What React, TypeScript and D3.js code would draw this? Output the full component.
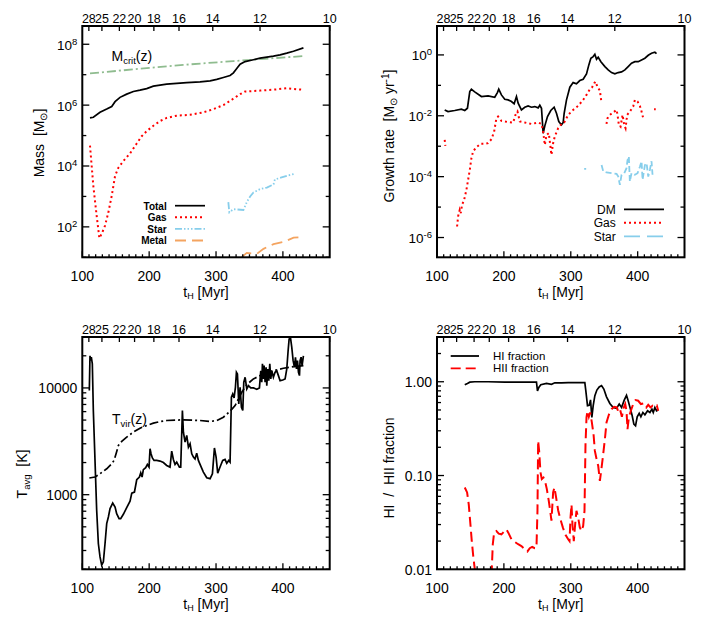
import React from "react";
import * as d3 from "d3";

type P = [number, number] | null;

// ---------------- axes data ----------------
const xDomain: [number, number] = [100, 470];
const xMajor = [100, 200, 300, 400];
const xMinor = d3.range(110, 470, 10).filter((v) => v % 100 !== 0);
const zLabels = [28, 25, 22, 20, 18, 16, 14, 12, 10];
const tOfZ = (z: number) => 17146 * Math.pow(1 + z, -1.5);

// ---------------- panel 1: mass ----------------
const massTotal: P[] = [
  [111.5, 3.8e5], [116.5, 4.0e5], [126.5, 5.8e5], [136.5, 7.4e5], [144, 9.0e5], [149, 1.3e6],
  [156.4, 1.8e6], [166.4, 2.3e6], [176.4, 2.8e6], [186.3, 3.1e6], [196.3, 3.5e6], [206.3, 4.2e6],
  [226.2, 4.9e6], [256.2, 5.5e6], [276.1, 5.8e6], [291.1, 6.3e6], [301.1, 7.0e6], [311, 8.1e6],
  [321, 9.4e6], [326, 1.15e7], [331, 1.6e7], [336, 2.2e7], [343.5, 2.7e7], [355.9, 3.1e7],
  [365.9, 3.5e7], [375.9, 3.8e7], [385.8, 4.1e7], [395.8, 4.5e7], [405.8, 5.1e7], [415.8, 5.9e7],
  [430.7, 7.6e7],
];
const massCrit: P[] = [
  [111.5, 1.1e7], [176.4, 1.5e7], [251, 2.1e7], [326, 2.8e7], [430.7, 4.1e7],
];
const massGas: P[] = [
  [111.5, 4.7e4], [116.5, 2.2e3], [121.5, 2.3e2], [125.5, 43], [129, 59], [134, 110], [139, 300],
  [144, 1050], [149, 4.7e3], [154, 8.8e3], [161.4, 1.45e4], [171.4, 2.6e4], [181.4, 5.5e4],
  [188.8, 9.5e4], [196.3, 1.4e5], [206.3, 2.1e5], [216.3, 3.0e5], [226.2, 3.8e5], [241.2, 4.5e5],
  [261.2, 4.8e5], [281.1, 5.8e5], [296.1, 7.4e5], [311, 1.0e6], [323.5, 1.5e6], [336, 2.3e6],
  [343.5, 2.8e6], [365.9, 3.0e6], [390.8, 3.3e6], [405.8, 3.6e6], [415.8, 3.4e6], [430.7, 3.2e6],
];
const massStar: P[] = [
  [318.4, 650], [319.9, 300], [326, 380], [341, 360], [346, 650], [351, 1000], [356, 1350],
  [366, 1750], [376, 1950], [386, 2500], [388, 3600], [398, 4200], [408, 4900], [416, 5400],
];
const massMetal: P[] = [
  [338.5, 10.2], [346, 14], [361, 13], [371, 19], [386, 27], [401, 32], [416, 44], [431, 46],
];

// ---------------- panel 2: growth rate ----------------
const rateDM: P[] = [
  [111.5, 0.0156], [116.5, 0.0138], [126.5, 0.0149], [136.5, 0.0164], [141.5, 0.0149], [145.5, 0.0177],
  [149, 0.0625], [151.4, 0.0745], [156.4, 0.061], [166.4, 0.0428], [176.4, 0.045], [186.3, 0.0407],
  [190.3, 0.058], [192.3, 0.0745], [196.3, 0.0485], [201.3, 0.035], [206.3, 0.0333], [211.3, 0.0293],
  [215.3, 0.0246], [218.8, 0.0428], [221.3, 0.0259], [226.2, 0.0156], [231.2, 0.0191], [236.2, 0.0211],
  [241.2, 0.0191], [246.2, 0.0201], [251.2, 0.0182], [253.7, 0.0222], [256.2, 0.0177], [258.7, 0.00267],
  [261.2, 0.00466], [265.2, 0.00944], [270.1, 0.0149], [275.1, 0.0191], [278.6, 0.0121], [282.1, 0.00647],
  [286.1, 0.00501], [288.6, 0.006], [290.1, 0.0121], [293.6, 0.0333], [298.6, 0.0867], [303.5, 0.123],
  [308.5, 0.112], [313.5, 0.1435], [318.5, 0.159], [323.5, 0.238], [327, 0.47], [330, 0.78],
  [333.5, 0.88], [336, 1.05], [338.5, 0.72], [341, 0.84], [345, 0.6], [351, 0.414], [355.9, 0.322],
  [360.9, 0.263], [365.9, 0.238], [370.9, 0.263], [375.9, 0.277], [380.9, 0.322], [385.8, 0.414],
  [390.8, 0.532], [395.8, 0.6], [400.8, 0.6], [405.8, 0.685], [410.8, 0.78], [415.8, 0.975],
  [420.7, 1.13], [425.7, 1.22], [428.2, 1.1],
];
const rateGas: P[] = [
  [111.5, 0.00162], [112.5, 0.00103], null,
  [130, 2.3e-6], [131.5, 4.9e-6], [134, 8.1e-6], [135.5, 6.3e-6], [137.5, 1.2e-5], [140.5, 1.7e-5],
  [144, 3.7e-5], [146.5, 7.8e-5], [149, 1.66e-4], [151.4, 4.0e-4], [154, 6.8e-4], [159, 9.3e-4],
  [165.4, 1.2e-3], [171.4, 1.2e-3], [176.4, 1.26e-3], [181.4, 1.7e-3], [185.4, 3.0e-3], [188.8, 8.3e-3],
  [191.3, 9.4e-3], [196.3, 6.8e-3], [206.3, 6.2e-3], [213.8, 6.0e-3], [217.3, 0.0107], [220.3, 0.0138],
  [223.8, 6.5e-3], [231.2, 6.0e-3], [241.2, 5.4e-3], [251.2, 6.0e-3], [256.2, 5.4e-3], [258.7, 3.0e-3],
  [261.2, 1.1e-3], [263.7, 2.35e-3], [267.1, 2.7e-3], [271.1, 5.2e-4], [273.6, 1.26e-3], [276.1, 2.1e-3],
  [281.1, 3.9e-3], [286.1, 5.4e-3], [290.1, 6.0e-3], [296.1, 0.0107], [303.5, 0.0156], [311, 0.0211],
  [318.5, 0.0333], [323.5, 0.0485], [328.5, 0.0745], [332, 0.0867], [335, 0.117], [337, 0.133],
  [340, 0.0867], [343.5, 0.0675], [346, 0.0259], null,
  [353.4, 5.4e-3], [354.9, 8.3e-3], [358.4, 0.0107], [363.4, 0.0128], [368.4, 0.0156], [369.9, 0.0107],
  [371.9, 5.0e-3], [374.4, 4.4e-3], [377.4, 0.0107], [379.9, 5.0e-3], [381.9, 3.9e-3], [384.3, 0.0107],
  [388.3, 0.0138], [393.3, 0.0201], [395.8, 0.0333], [399.8, 0.0293], [403.3, 0.0211], [405.8, 0.0138],
  [408.3, 8.3e-3], null,
  [424.5, 0.0165], [427, 0.0165],
];
const rateStar: P[] = [
  [320, 1.8e-4], [323, 1.8e-4], null,
  [346, 2.4e-4], [348.5, 1.5e-4], [353.4, 1.37e-4], [361, 1.3e-4], [368.4, 1.24e-4], [371, 1.0e-4],
  [373.4, 5.4e-5], [375.9, 1.15e-4], [380, 1.3e-4], [383.3, 1.9e-4], [384.8, 3.5e-4], [386.8, 4.6e-4],
  [388.3, 6.9e-5], [390.8, 1.3e-4], [395.8, 1.15e-4], [399.8, 1.3e-4], [403.3, 2.1e-4], [405.8, 3.2e-4],
  [407.3, 7.9e-5], [410.8, 2.4e-4], [413.3, 2.8e-4], [415.8, 1.0e-4], [418.3, 1.7e-4], [420.7, 3.2e-4],
  [422.2, 1.15e-4],
];

// ---------------- panel 3: temperature ----------------
const tempAvg: P[] = [
  [110.5, 9440], [111.5, 20000], [112.5, 18000], [113.5, 19400], [115, 16800], [116.5, 6140],
  [119, 2095], [121.5, 714], [124, 349], [126.5, 261], [129, 219], [131.5, 235], [134, 349],
  [136.5, 536], [139, 618], [141.5, 740], [145.5, 835], [149, 767], [151.4, 664], [155, 597],
  [157.4, 597], [161.4, 655], [166.4, 755], [171.4, 870], [174, 1035], [178, 1059], [181.4, 1380],
  [185.4, 1463], [187.4, 1600], [189.4, 1463], [191.3, 1715], [194.8, 1790], [197.3, 1920],
  [199.8, 1814], [201.3, 2692], [202.8, 2417], [204.8, 2210], [207.3, 2095], [211.3, 2095],
  [216.3, 2065], [221.3, 2000], [226.2, 1880], [231.2, 1814], [233.7, 2560], [236.2, 2140],
  [238.7, 1920], [241.2, 2018], [245.2, 1814], [247.2, 1814], [249.7, 6140], [251.2, 3850],
  [253.7, 3105], [256.2, 3590], [258.7, 2786], [261.2, 2998], [263.7, 2417], [266.2, 2250],
  [268.6, 2160], [271.1, 2450], [273.6, 2095], [276.1, 1920], [281.1, 1629], [286.1, 1440],
  [291.1, 1412], [294.6, 1570], [297.6, 2740], [300.1, 2250], [302.5, 1590], [305, 1750],
  [307.5, 1920], [310, 2095], [313.5, 2140], [316, 1970], [319, 2095], [321, 2018], [323, 8180],
  [325, 8790], [327, 8050], [329, 10150], [330.5, 14000], [332, 13500], [334, 7080], [336, 10150],
  [338, 6600], [340, 6140], [341.5, 11300], [343.5, 12580], [346, 9790], [348.5, 10500],
  [351.9, 10000], [355.9, 10000], [360.9, 9720], [364.9, 10000], [366.9, 14500], [368.4, 11300],
  [369.4, 16800], [370.9, 12140], [371.9, 16200], [373.4, 11300], [374.9, 15600], [375.9, 10500],
  [377.4, 15060], [378.9, 11700], [380.4, 16800], [381.9, 12140], [383.4, 14500], [385.8, 12580],
  [388.3, 14000], [390.8, 14500], [393.3, 13040], [395.8, 11700], [399.8, 11850], [403.3, 12140],
  [405.8, 15060], [407.8, 22300], [409.3, 28700], [411.3, 29730], [413.3, 24000], [415.3, 18000],
  [417.3, 15600], [418.8, 19400], [420.3, 15060], [421.8, 18000], [423.3, 14000], [424.8, 13040],
  [425.7, 18000], [427.2, 19400], [428.7, 16190], [430.7, 20000],
];
const tempVir: P[] = [
  [110.5, 1432], [119, 1463], [126.5, 1571], [136.5, 1750], [144, 1950], [147.5, 2095], [150.5, 2417],
  [154, 2890], [159, 3155], [166.4, 3460], [176.4, 3857], [186.3, 4200], [196.3, 4450], [206.3, 4680],
  [216.3, 4845], [226.2, 4955], [251.2, 5025], [276.1, 4955], [291.1, 4845], [301.1, 4955],
  [311, 5320], [321, 6050], [328.5, 6840], [333.5, 7890], [338.5, 9110], [346, 10740], [355.9, 12140],
  [365.9, 13040], [375.9, 13900], [385.8, 14500], [400.8, 15280], [415.8, 15820], [430.7, 16190],
];

// ---------------- panel 4: HI / HII fraction ----------------
const fracHI: P[] = [
  [141.5, 0.93], [145.5, 0.96], [149, 0.99], [156.4, 1.0], [176.4, 1.0], [201.3, 0.99], [226.2, 0.99],
  [248.7, 0.99], [250.2, 0.8], [252.2, 0.87], [255.2, 0.93], [263.7, 0.96], [271.1, 0.94],
  [276.1, 0.975], [286.1, 0.975], [296.1, 0.98], [306, 0.98], [321, 0.98], [322.5, 0.8], [325, 0.555],
  [327.5, 0.56], [329.5, 0.64], [331.5, 0.416], [333.5, 0.555], [336, 0.71], [339, 0.815],
  [342.5, 0.88], [346, 0.91], [349.4, 0.835], [353.4, 0.69], [358.4, 0.587], [363.4, 0.532],
  [368.4, 0.52], [372.4, 0.578], [375.9, 0.532], [379.9, 0.637], [383.3, 0.715], [385.8, 0.627],
  [388.8, 0.523], [391.8, 0.434], [394.3, 0.353], [396.8, 0.339], [399.3, 0.423], [402.3, 0.46],
  [404.8, 0.423], [407.8, 0.47], [410.8, 0.444], [414.8, 0.49], [418.3, 0.47], [421.3, 0.51],
  [423.3, 0.47], [425.7, 0.532], [428.2, 0.49], [430.7, 0.5],
];
const fracHII: P[] = [
  [141.5, 0.0745], [145, 0.066], [147.5, 0.049], [149.5, 0.033], [152, 0.02], [154.4, 0.0133],
  [157.4, 0.0089], [161.4, 0.0069], [180.4, 0.0069], [181.9, 0.01], [183.4, 0.0185], [185.4, 0.0246],
  [188.8, 0.0256], [192.3, 0.024], [196.3, 0.0236], [200.3, 0.0253], [203.8, 0.0267], [207.3, 0.024],
  [211.3, 0.0209], [216.3, 0.0196], [221.3, 0.0185], [226.2, 0.0177], [231.2, 0.0164], [235.2, 0.0155],
  [238.7, 0.0168], [242.2, 0.0173], [246.2, 0.0168], [248.7, 0.017], [250.2, 0.042], [251.2, 0.234],
  [252.7, 0.183], [254.7, 0.108], [256.7, 0.0917], [259.2, 0.095], [261.7, 0.086], [264.2, 0.0717],
  [267.1, 0.0537], [269.6, 0.0403], [271.1, 0.033], [273.6, 0.066], [275.6, 0.0745], [278.1, 0.058],
  [281.1, 0.0427], [284.6, 0.034], [288.1, 0.028], [292.1, 0.0233], [296.1, 0.0209], [298.1, 0.02],
  [299.6, 0.0356], [301.1, 0.049], [302.5, 0.03], [304.5, 0.02], [306.5, 0.03], [308.5, 0.042],
  [311, 0.0356], [313.5, 0.028], [316, 0.0256], [318.5, 0.029], [320.5, 0.042], [322, 0.216],
  [323.5, 0.416], [325, 0.49], [327, 0.424], [329, 0.47], [331.5, 0.368], [334, 0.276], [336, 0.183],
  [338.5, 0.15], [341, 0.127], [343.5, 0.0877], [345.4, 0.112], [347.9, 0.156], [351, 0.244],
  [353.4, 0.368], [356.9, 0.444], [360.9, 0.51], [364.9, 0.541], [368.9, 0.532], [371.4, 0.47],
  [373.9, 0.5], [376.4, 0.424], [378.9, 0.523], [381.4, 0.578], [383.3, 0.49], [384.8, 0.312],
  [386.8, 0.416], [389.8, 0.49], [393.3, 0.578], [396.8, 0.637], [400.8, 0.627], [404.8, 0.578],
  [408.8, 0.587], [412.8, 0.532], [415.8, 0.568], [419.2, 0.532], [422.2, 0.555], [425.7, 0.532],
  [428.7, 0.555], [430.7, 0.49],
];

// ---------------- styling ----------------
const FONT = "'Liberation Sans', Arial, Helvetica, sans-serif";
const RED = "#ff0000";
const BLUE = "#87ceeb";
const ORANGE = "#f4a460";
const GREEN = "#8fbc8f";

type Scale = (v: number) => number;

function path(data: P[], xs: Scale, ys: Scale) {
  return (
    d3
      .line<P>()
      .defined((d) => d !== null)
      .x((d) => xs((d as [number, number])[0]))
      .y((d) => ys((d as [number, number])[1]))(data) || ""
  );
}

interface PanelProps {
  id: string;
  x0: number;
  x1: number;
  y0: number;
  y1: number;
  yDomain: [number, number];
  yMajor: { v: number; label: React.ReactNode }[];
  yMinor: number[];
  yTitle: React.ReactNode;
  yTitleX: number;
  yTitleY: number;
  labelSize: number;
  plot: (xs: Scale, ys: Scale) => React.ReactNode;
  overlay?: (xs: Scale, ys: Scale) => React.ReactNode;
}

function Panel(p: PanelProps) {
  const xs = d3.scaleLinear().domain(xDomain).range([p.x0, p.x1]);
  const ys = d3.scaleLog().domain(p.yDomain).range([p.y1, p.y0]);
  const tk = { stroke: "#000", strokeWidth: 1.3 };
  return (
    <g fontFamily={FONT}>
      <defs>
        <clipPath id={p.id}>
          <rect x={p.x0} y={p.y0} width={p.x1 - p.x0} height={p.y1 - p.y0} />
        </clipPath>
      </defs>
      <g clipPath={`url(#${p.id})`} fill="none">
        {p.plot(xs, ys)}
      </g>
      {p.overlay && p.overlay(xs, ys)}
      {/* bottom ticks */}
      {xMajor.map((v) => (
        <g key={"xM" + v}>
          <line x1={xs(v)} x2={xs(v)} y1={p.y1} y2={p.y1 - 6} {...tk} />
          <text x={xs(v)} y={p.y1 + 23.5} fontSize={14} textAnchor="middle">
            {v}
          </text>
        </g>
      ))}
      {xMinor.map((v) => (
        <line key={"xm" + v} x1={xs(v)} x2={xs(v)} y1={p.y1} y2={p.y1 - 3} {...tk} />
      ))}
      {/* top redshift ticks */}
      {zLabels.map((z) => (
        <g key={"z" + z}>
          <line x1={xs(tOfZ(z))} x2={xs(tOfZ(z))} y1={p.y0} y2={p.y0 + 5} {...tk} />
          <text x={xs(tOfZ(z))} y={p.y0 - 3} fontSize={12.5} textAnchor="middle">
            {z}
          </text>
        </g>
      ))}
      {/* y ticks */}
      {p.yMajor.map((t) => (
        <g key={"yM" + t.v}>
          <line x1={p.x0} x2={p.x0 + 7} y1={ys(t.v)} y2={ys(t.v)} {...tk} />
          <line x1={p.x1} x2={p.x1 - 7} y1={ys(t.v)} y2={ys(t.v)} {...tk} />
          <text x={p.x0 - 5} y={ys(t.v) + 5.5} fontSize={p.labelSize} textAnchor="end">
            {t.label}
          </text>
        </g>
      ))}
      {p.yMinor.map((v) => (
        <g key={"ym" + v}>
          <line x1={p.x0} x2={p.x0 + 4} y1={ys(v)} y2={ys(v)} {...tk} />
          <line x1={p.x1} x2={p.x1 - 4} y1={ys(v)} y2={ys(v)} {...tk} />
        </g>
      ))}
      <rect x={p.x0} y={p.y0} width={p.x1 - p.x0} height={p.y1 - p.y0} fill="none" stroke="#000" strokeWidth={2} />
      {/* titles */}
      <text x={(p.x0 + p.x1) / 2} y={p.y1 + 40} fontSize={14} textAnchor="middle">
        t<tspan fontSize={9} dy={2}>H</tspan>
        <tspan dy={-2}>{"  [Myr]"}</tspan>
      </text>
      <text
        transform={`translate(${p.yTitleX},${p.yTitleY}) rotate(-90)`}
        fontSize={14}
        textAnchor="middle"
        style={{ whiteSpace: "pre" }}
      >
        {p.yTitle}
      </text>
    </g>
  );
}

const pow10 = (e: number) => (
  <>
    10<tspan fontSize={9.5} dy={-5}>{e}</tspan>
  </>
);

export default function App() {
  const C1: [number, number] = [82.3, 329.7];
  const C2: [number, number] = [437, 684.5];
  const R1: [number, number] = [26, 257.3];
  const R2: [number, number] = [337, 569.3];
  const minorLog = (lo: number, hi: number) => {
    const out: number[] = [];
    for (let d = Math.floor(Math.log10(lo)); d <= Math.ceil(Math.log10(hi)); d++) {
      for (let k = 2; k <= 9; k++) {
        const v = k * Math.pow(10, d);
        if (v >= lo && v <= hi) out.push(v);
      }
    }
    return out;
  };

  return (
    <svg width={708} height={623} style={{ position: "absolute", left: 0, top: 0, background: "#fff" }}>
      <rect width={708} height={623} fill="#fff" />
      {/* Panel 1 */}
      <Panel
        id="c1"
        x0={C1[0]} x1={C1[1]} y0={R1[0]} y1={R1[1]}
        yDomain={[10, Math.pow(10, 8.6)]}
        yMajor={[2, 4, 6, 8].map((e) => ({ v: Math.pow(10, e), label: pow10(e) }))}
        yMinor={[1, 3, 5, 7].map((e) => Math.pow(10, e))}
        labelSize={13.5}
        yTitle={<>Mass  [M<tspan fontSize={10} dy={3}>⊙</tspan><tspan dy={-3}>]</tspan></>}
        yTitleX={44}
        yTitleY={143}
        plot={(xs, ys) => (
          <>
            <path d={path(massCrit, xs, ys)} stroke={GREEN} strokeWidth={1.8} strokeDasharray="9 3 2 3" />
            <path d={path(massTotal, xs, ys)} stroke="#000" strokeWidth={1.7} />
            <path d={path(massGas, xs, ys)} stroke={RED} strokeWidth={2} strokeDasharray="2 3" />
            <path d={path(massStar, xs, ys)} stroke={BLUE} strokeWidth={1.8} strokeDasharray="7 2 1.5 2 1.5 2 1.5 2" />
            <path d={path(massMetal, xs, ys)} stroke={ORANGE} strokeWidth={1.8} strokeDasharray="11 6" />
          </>
        )}
        overlay={() => (
          <g fontSize={10} fontWeight="bold">
            <text x={111.5} y={61} fontSize={14} fontWeight="normal">
              M<tspan fontSize={9.5} dy={3}>crit</tspan>
              <tspan dy={-3}>(z)</tspan>
            </text>
            {[
              { name: "Total", color: "#000", dash: "none", w: 1.7 },
              { name: "Gas", color: RED, dash: "2 3", w: 2 },
              { name: "Star", color: BLUE, dash: "7 2 1.5 2 1.5 2 1.5 2", w: 1.8 },
              { name: "Metal", color: ORANGE, dash: "11 6", w: 1.8 },
            ].map((l, i) => (
              <g key={l.name}>
                <text x={166.7} y={209.5 + i * 11.6} textAnchor="end">{l.name}</text>
                <line x1={175} x2={205} y1={205.7 + i * 11.6} y2={205.7 + i * 11.6} stroke={l.color}
                  strokeWidth={l.w} strokeDasharray={l.dash} />
              </g>
            ))}
          </g>
        )}
      />
      {/* Panel 2 */}
      <Panel
        id="c2"
        x0={C2[0]} x1={C2[1]} y0={R1[0]} y1={R1[1]}
        yDomain={[Math.pow(10, -6.65), Math.pow(10, 0.95)]}
        yMajor={[-6, -4, -2, 0].map((e) => ({ v: Math.pow(10, e), label: pow10(e) }))}
        yMinor={[-5, -3, -1].map((e) => Math.pow(10, e))}
        labelSize={13.5}
        yTitle={<>Growth rate  [M<tspan fontSize={10} dy={3}>⊙</tspan><tspan dy={-3}> yr</tspan><tspan fontSize={10} dy={-5}>-1</tspan><tspan dy={5}>]</tspan></>}
        yTitleX={394}
        yTitleY={136}
        plot={(xs, ys) => (
          <>
            <path d={path(rateStar, xs, ys)} stroke={BLUE} strokeWidth={1.8} strokeDasharray="6 3" />
            <path d={path(rateDM, xs, ys)} stroke="#000" strokeWidth={1.7} />
            <path d={path(rateGas, xs, ys)} stroke={RED} strokeWidth={2} strokeDasharray="2 3" />
          </>
        )}
        overlay={() => (
          <g fontSize={12}>
            {[
              { name: "DM", color: "#000", dash: "none", w: 1.7 },
              { name: "Gas", color: RED, dash: "2 3", w: 2 },
              { name: "Star", color: BLUE, dash: "16 7", w: 1.8 },
            ].map((l, i) => (
              <g key={l.name}>
                <text x={615.7} y={213.5 + i * 13.5} textAnchor="end">{l.name}</text>
                <line x1={624} x2={664} y1={209.3 + i * 13.5} y2={209.3 + i * 13.5} stroke={l.color}
                  strokeWidth={l.w} strokeDasharray={l.dash} />
              </g>
            ))}
          </g>
        )}
      />
      {/* Panel 3 */}
      <Panel
        id="c3"
        x0={C1[0]} x1={C1[1]} y0={R2[0]} y1={R2[1]}
        yDomain={[200, 30000]}
        yMajor={[1000, 10000].map((v) => ({ v, label: String(v) }))}
        yMinor={minorLog(200, 30000)}
        labelSize={14}
        yTitle={<>T<tspan fontSize={9.5} dy={3}>avg</tspan><tspan dy={-3}>  [K]</tspan></>}
        yTitleX={27}
        yTitleY={474}
        plot={(xs, ys) => (
          <>
            <path d={path(tempVir, xs, ys)} stroke="#000" strokeWidth={1.7} strokeDasharray="9 3 2 3" />
            <path d={path(tempAvg, xs, ys)} stroke="#000" strokeWidth={1.7} />
          </>
        )}
        overlay={() => (
          <text x={112} y={424} fontSize={14}>
            T<tspan fontSize={9.5} dy={3}>vir</tspan>
            <tspan dy={-3}>(z)</tspan>
          </text>
        )}
      />
      {/* Panel 4 */}
      <Panel
        id="c4"
        x0={C2[0]} x1={C2[1]} y0={R2[0]} y1={R2[1]}
        yDomain={[0.01, 3]}
        yMajor={[0.01, 0.1, 1].map((v) => ({ v, label: v.toFixed(2) }))}
        yMinor={minorLog(0.01, 3)}
        labelSize={14}
        yTitle={"HI  /  HII fraction"}
        yTitleX={394}
        yTitleY={468}
        plot={(xs, ys) => (
          <>
            <path d={path(fracHI, xs, ys)} stroke="#000" strokeWidth={1.7} />
            <path d={path(fracHII, xs, ys)} stroke={RED} strokeWidth={2} strokeDasharray="10 5" />
          </>
        )}
        overlay={() => (
          <g fontSize={11.5}>
            {[
              { name: "HI fraction", color: "#000", dash: "none" },
              { name: "HII fraction", color: RED, dash: "10 5" },
            ].map((l, i) => (
              <g key={l.name}>
                <line x1={450.7} x2={479} y1={356 + i * 12.3} y2={356 + i * 12.3} stroke={l.color}
                  strokeWidth={1.8} strokeDasharray={l.dash} />
                <text x={493} y={360 + i * 12.3}>{l.name}</text>
              </g>
            ))}
          </g>
        )}
      />
    </svg>
  );
}
